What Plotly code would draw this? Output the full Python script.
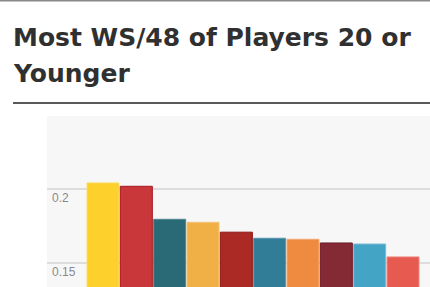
import plotly.graph_objects as go

players = ["1", "2", "3", "4", "5", "6", "7", "8", "9", "10"]
ws48 = [0.2043, 0.2020, 0.1797, 0.1777, 0.1710, 0.1669, 0.1662, 0.1637, 0.1630, 0.1543]
bar_colors = ["#fdd02c", "#c9373a", "#2a6a77", "#f0b046", "#ab2a26",
              "#317d98", "#ef8b40", "#842a35", "#44a4c6", "#e65a50"]
line_colors = ["#f8dc6a", "#a8171d", "#4d8793", "#f3c47c", "#8e1412",
               "#5596ad", "#f4aa74", "#6d1a26", "#7ab9d2", "#ee8b83"]
y_ticks = [0.15, 0.2]
y_labels = ["0.15", "0.2"]
title_lines = ["Most WS/48 of Players 20 or", "Younger"]

fig = go.Figure()
fig.add_trace(go.Bar(
    x=list(range(len(players))), y=ws48,
    marker=dict(color=bar_colors, line=dict(color=line_colors, width=1)),
    hovertext=players,
))

fig.update_layout(
    width=430, height=287,
    margin=dict(l=47, r=0, t=116, b=0),
    paper_bgcolor="white",
    plot_bgcolor="#f7f7f7",
    showlegend=False,
    bargap=0.04,
    xaxis=dict(range=[-1.68, 9.81], showgrid=False, zeroline=False,
               showticklabels=False, showline=False),
    yaxis=dict(range=[0.13396, 0.2495], tickvals=y_ticks, ticktext=y_labels,
               showgrid=True, gridcolor="#dddddd", gridwidth=2, zeroline=False,
               ticklabelposition="inside", ticklabelshift=9, ticklabelstandoff=2,
               tickfont=dict(family="Liberation Sans Narrow, Arial Narrow, sans-serif",
                             size=12, color="#8a8a8a"),
               showline=False),
    font=dict(family="DejaVu Sans, sans-serif"),
)

plot_h = 287 - 116
for txt, ypx in zip(title_lines, [37, 74]):
    fig.add_annotation(text=txt, xref="paper", yref="paper",
                       x=-(47 - 11) / 383, y=(287 - ypx) / plot_h,
                       xanchor="left", yanchor="middle", showarrow=False,
                       font=dict(family="DejaVu Sans, sans-serif", size=25,
                                 color="#303030", weight=700))

fig.add_shape(type="line", xref="paper", yref="paper", x0=-47 / 383, x1=1,
              y0=(287 - 0.5) / plot_h, y1=(287 - 0.5) / plot_h,
              line=dict(color="#888888", width=2))
fig.add_shape(type="line", xref="paper", yref="paper", x0=-(47 - 13) / 383, x1=1,
              y0=(287 - 103) / plot_h, y1=(287 - 103) / plot_h,
              line=dict(color="#222222", width=1.5))

fig.write_html("out.html")
